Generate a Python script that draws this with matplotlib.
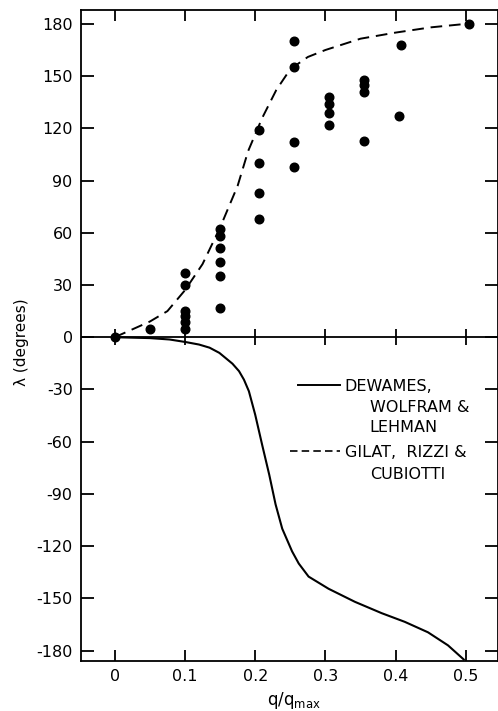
import matplotlib
matplotlib.use("Agg")
import matplotlib.pyplot as plt
import numpy as np

# measured points (q/qmax, lambda in degrees)
q_meas = [0.0, 0.05,
          0.1, 0.1, 0.1, 0.1, 0.1, 0.1,
          0.15, 0.15, 0.15, 0.15, 0.15, 0.15,
          0.205, 0.205, 0.205, 0.205,
          0.255, 0.255, 0.255, 0.255,
          0.305, 0.305, 0.305, 0.305,
          0.355, 0.355, 0.355, 0.355,
          0.407, 0.405,
          0.505]
lam_meas = [0, 5,
            37, 30, 15, 12, 9, 5,
            62, 58, 51, 43, 35, 17,
            119, 100, 83, 68,
            170, 155, 112, 98,
            138, 134, 129, 122,
            148, 145, 141, 113,
            168, 127,
            180]

# Gilat, Rizzi & Cubiotti (dashed)
q_grc = [0, 0.025, 0.05, 0.075, 0.1, 0.125, 0.15, 0.175, 0.19, 0.21,
         0.23, 0.25, 0.275, 0.3, 0.35, 0.4, 0.45, 0.5]
lam_grc = [0, 4.5, 9, 15, 27, 42, 63, 87, 107, 126,
           142, 154, 161, 165, 171.5, 175, 178, 180]

# DeWames, Wolfram & Lehman (solid)
q_dwl = [0, 0.05, 0.078, 0.1, 0.12, 0.135, 0.149, 0.158, 0.1676, 0.177,
         0.184, 0.191, 0.2, 0.21, 0.22, 0.229, 0.2385, 0.2525, 0.262,
         0.276, 0.3045, 0.342, 0.38, 0.413, 0.446, 0.4745, 0.498]
lam_dwl = [0, -0.5, -1.3, -2.7, -4.2, -6, -9, -12, -15.2, -19.5,
           -24.4, -31, -44.5, -62, -79, -96, -110, -123, -130,
           -137.5, -144.5, -152, -158.5, -163.5, -169.5, -177, -185.5]

xticks = [0, 0.1, 0.2, 0.3, 0.4, 0.5]
xticklabels = ["0", "0.1", "0.2", "0.3", "0.4", "0.5"]
yticks = [-180, -150, -120, -90, -60, -30, 0, 30, 60, 90, 120, 150, 180]

plt.rcParams['font.family'] = ['DejaVu Sans']
plt.rcParams['axes.unicode_minus'] = False

fig = plt.figure(figsize=(4.98, 7.11), dpi=100)
ax = fig.add_axes([0.1627, 0.0703, 0.8363, 0.9157])

ax.axhline(0, color="black", lw=1.3, zorder=2)
# tick crosses on the zero line
ax.plot(xticks, [0] * len(xticks), ls="none", marker="|", ms=12,
        mew=1.3, color="black", zorder=2)

ax.plot(q_dwl, lam_dwl, color="black", lw=1.5, solid_capstyle="butt")
ax.plot(q_grc, lam_grc, color="black", lw=1.4, dashes=(6, 3.5))
ax.plot(q_meas, lam_meas, "o", color="black", ms=6.2, zorder=3)

ax.set_xlim(-0.048, 0.545)
ax.set_ylim(-186, 188)
ax.set_xticks(xticks)
ax.set_xticklabels(xticklabels)
ax.set_yticks(yticks)
ax.tick_params(direction="in", length=8, width=1.3, labelsize=11.5,
               top=True, right=True, pad=6)
ax.tick_params(axis="y", length=9.5)
for s in ax.spines.values():
    s.set_linewidth(1.3)

ax.set_ylabel("λ (degrees)", fontsize=11)
ax.yaxis.set_label_coords(-0.125, 0.49)
ax.set_xlabel(r"q/q$_{\mathregular{max}}$", fontsize=12)
ax.xaxis.set_label_coords(0.511, -0.0445)

# legend drawn by hand
tr = ax.transAxes
ax.plot([0.520, 0.621], [0.424, 0.424], color="black", lw=1.4, transform=tr)
ax.text(0.633, 0.421, "DEWAMES,", transform=tr, fontsize=11.5, va="center")
ax.text(0.693, 0.390, "WOLFRAM &", transform=tr, fontsize=11.5, va="center")
ax.text(0.693, 0.359, "LEHMAN", transform=tr, fontsize=11.5, va="center")
ax.plot([0.501, 0.621], [0.322, 0.322], color="black", lw=1.2,
        dashes=(4.5, 2.5), transform=tr)
ax.text(0.633, 0.320, "GILAT,  RIZZI &", transform=tr, fontsize=11.5, va="center")
ax.text(0.693, 0.287, "CUBIOTTI", transform=tr, fontsize=11.5, va="center")

fig.savefig("out.png", dpi=100)
